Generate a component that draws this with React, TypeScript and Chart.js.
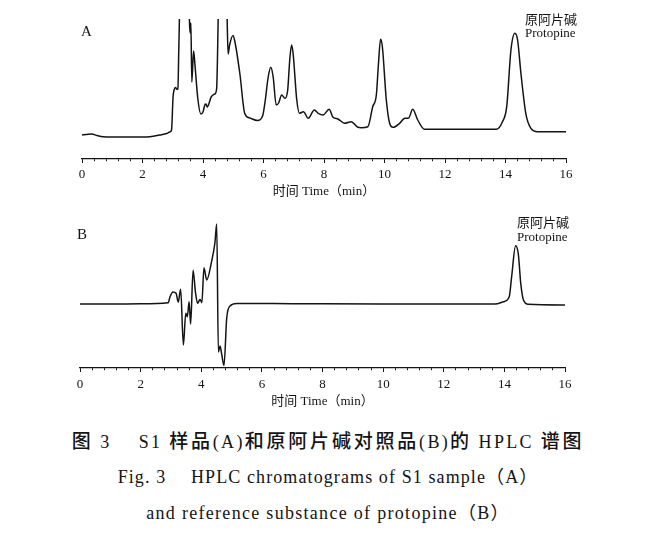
import { useEffect, useRef } from "react";
import { Chart, registerables } from "chart.js";

Chart.register(...registerables);

// ---------- data ----------
const TIME_A = [
  0.0, 0.15, 0.32, 0.5, 0.7, 1.0, 1.47, 2.0, 2.24, 2.57, 2.8, 2.9, 2.96, 3.01, 3.05, 3.09, 3.14, 3.17, 3.2,
  3.25, 3.4, 3.53, 3.56, 3.58, 3.6, 3.63, 3.69, 3.74, 3.83, 3.93, 4.0, 4.06, 4.1, 4.14, 4.27, 4.39, 4.45,
  4.52, 4.62, 4.72, 4.79, 4.83, 4.88, 4.99, 5.05, 5.22, 5.38, 5.55, 5.8, 5.97, 6.06, 6.15, 6.24, 6.32,
  6.42, 6.5, 6.6, 6.71, 6.8, 6.87, 6.93, 6.98, 7.1, 7.19, 7.32, 7.48, 7.68, 7.81, 7.97, 8.17, 8.3, 8.46,
  8.68, 8.9, 9.12, 9.23, 9.45, 9.61, 9.73, 9.8, 9.87, 9.93, 10.06, 10.17, 10.28, 10.5, 10.67, 10.8, 10.93,
  11.1, 11.32, 12.0, 13.0, 13.69, 13.9, 14.04, 14.18, 14.31, 14.4, 14.51, 14.67, 14.84, 15.06, 15.34, 16.0,
];
const SIGNAL_A = [
  24, 24.5, 25, 23.5, 22.3, 22, 22, 22, 22.3, 24, 25.5, 27, 29, 62, 69.5, 71.5, 69.7, 70, 110,
  175, 200, 160, 132, 126, 136, 77, 108, 92, 60, 45, 47, 54, 55, 52, 62, 65, 70,
  165, 220, 200, 150, 105, 114, 123.5, 118, 85, 45.5, 41, 38.5, 43, 59, 81, 91.7, 82,
  54, 56, 64, 60.7, 69, 100, 114, 105, 59, 45.7, 47.3, 40.7, 49, 45.7, 44, 49.7, 41.7, 40,
  35.7, 37.3, 31.7, 31.3, 32.3, 52.3, 64, 95, 119.7, 112, 59, 35.7, 31.7, 35.7, 40.7, 41, 49.7,
  39, 29.7, 29.7, 29.7, 29.7, 37.3, 52.3, 109, 125.7, 119, 85.7, 45.7, 30.7, 27.3, 27.3, 27.3,
];

const TIME_B = [
  0.0, 1.0, 2.0, 2.91, 2.97, 3.07, 3.17, 3.24, 3.32, 3.41, 3.49, 3.54, 3.6, 3.65, 3.73, 3.81, 3.88,
  3.96, 4.02, 4.09, 4.18, 4.34, 4.45, 4.51, 4.565, 4.62, 4.67, 4.75, 4.84, 4.95, 5.17, 7.0, 10.0, 13.69,
  13.97, 14.16, 14.24, 14.37, 14.46, 14.54, 14.63, 14.79, 16.0,
];
const SIGNAL_B = [
  64, 64, 64.2, 65.3, 71.3, 76, 74.7, 65.8, 78.8, 23, 54.7, 51.3, 66.3, 44, 97.7, 75.5, 64.7,
  68.5, 65.3, 100.3, 88, 106.3, 125, 144, 16, 22, 14.7, 2.5, 50, 62, 64.5, 64.3, 64, 64,
  66.3, 71.3, 91.3, 122.3, 114, 84.7, 68, 63.7, 63,
];

const X_MIN = 0;
const X_MAX = 16;
const MAJOR_STEP = 2;
const MINOR_STEP = 0.4;
const AXIS_TITLE = "时间 Time（min）";
const PANEL_LABELS = ["A", "B"];
const PEAK_NAME_CN = "原阿片碱";
const PEAK_NAME_EN = "Protopine";

const CAPTION_LINE_1 = [
  { text: "图", cjk: true },
  { text: " 3\u3000 S1 ", cjk: false },
  { text: "样品", cjk: true },
  { text: "(A)", cjk: false },
  { text: "和原阿片碱对照品", cjk: true },
  { text: "(B)", cjk: false },
  { text: "的", cjk: true },
  { text: " HPLC ", cjk: false },
  { text: "谱图", cjk: true },
];
const CAPTION_LINE_2 = "Fig. 3\u3000 HPLC chromatograms of S1 sample（A）";
const CAPTION_LINE_3 = "and reference substance of protopine（B）";

const SERIF = "'Liberation Serif', 'Noto Sans CJK SC', serif";
const INK = "#141414";

const isMajor = (v: number) => Math.abs(v / MAJOR_STEP - Math.round(v / MAJOR_STEP)) < 1e-6;

type PanelText = { text: string; x: number; y: number; size: number };

function makeConfig(
  times: number[],
  values: number[],
  yMax: number,
  padding: { top: number; left: number; right: number; bottom: number },
  scaleHeight: number,
  tickPad: number,
  titlePadBottom: number,
  texts: PanelText[]
): any {
  const textPlugin = {
    id: "panelText",
    afterDraw(chart: any) {
      const ctx = chart.ctx;
      ctx.save();
      ctx.fillStyle = INK;
      ctx.textBaseline = "alphabetic";
      ctx.textAlign = "left";
      for (const t of texts) {
        ctx.font = `${t.size}px ${SERIF}`;
        ctx.fillText(t.text, t.x, t.y);
      }
      ctx.restore();
    },
  };
  return {
    type: "line",
    data: {
      datasets: [
        {
          data: times.map((t, i) => ({ x: t, y: values[i] })),
          borderColor: INK,
          borderWidth: 1.5,
          pointRadius: 0,
          cubicInterpolationMode: "monotone",
          fill: false,
          clip: 1,
        },
      ],
    },
    options: {
      animation: false,
      responsive: false,
      maintainAspectRatio: false,
      layout: { padding },
      plugins: { legend: { display: false }, tooltip: { enabled: false } },
      scales: {
        x: {
          type: "linear",
          min: X_MIN,
          max: X_MAX,
          afterFit: (s: any) => {
            s.height = scaleHeight;
          },
          ticks: {
            stepSize: MINOR_STEP,
            autoSkip: false,
            maxRotation: 0,
            padding: tickPad,
            color: INK,
            font: { family: SERIF, size: 13 },
            callback: (v: any) => (isMajor(Number(v)) ? String(Math.round(Number(v))) : ""),
          },
          grid: {
            display: true,
            drawOnChartArea: false,
            drawTicks: true,
            tickLength: 4,
            tickColor: INK,
            tickWidth: 1,
            tickBorderDash: (c: any) => (c.tick && isMajor(c.tick.value) ? [] : [2, 30]),
          },
          border: { display: true, color: INK, width: 1.2 },
          title: {
            display: true,
            text: AXIS_TITLE,
            color: INK,
            font: { family: SERIF, size: 13 },
            padding: { top: 0, bottom: titlePadBottom },
          },
        },
        y: { display: false, min: 0, max: yMax },
      },
    },
    plugins: [textPlugin],
  };
}

export default function App() {
  const refA = useRef<HTMLCanvasElement | null>(null);
  const refB = useRef<HTMLCanvasElement | null>(null);

  useEffect(() => {
    const a = new Chart(
      refA.current as HTMLCanvasElement,
      makeConfig(TIME_A, SIGNAL_A, 139, { top: 20, left: 82, right: 100, bottom: 0 }, 41, 4, 1, [
        { text: PANEL_LABELS[0], x: 81, y: 36, size: 15 },
        { text: PEAK_NAME_CN, x: 525, y: 24, size: 13 },
        { text: PEAK_NAME_EN, x: 525, y: 37, size: 13 },
      ])
    );
    const b = new Chart(
      refB.current as HTMLCanvasElement,
      makeConfig(TIME_B, SIGNAL_B, 153, { top: 15, left: 80, right: 101, bottom: 0 }, 42, 5, 1, [
        { text: PANEL_LABELS[1], x: 77, y: 39, size: 15 },
        { text: PEAK_NAME_CN, x: 517, y: 27, size: 13 },
        { text: PEAK_NAME_EN, x: 517, y: 41, size: 13 },
      ])
    );
    return () => {
      a.destroy();
      b.destroy();
    };
  }, []);

  const lineStyle = (top: number): any => ({
    position: "absolute",
    top,
    left: 5,
    width: 646,
    textAlign: "center",
    fontFamily: SERIF,
    fontSize: 18,
    lineHeight: "18px",
    color: INK,
    whiteSpace: "pre",
  });

  return (
    <div style={{ position: "absolute", left: 0, top: 0, width: 666, height: 543, background: "#fff", overflow: "hidden" }}>
      <canvas ref={refA} width={666} height={200} style={{ position: "absolute", left: 0, top: 0, width: 666, height: 200 }} />
      <canvas ref={refB} width={666} height={210} style={{ position: "absolute", left: 0, top: 200, width: 666, height: 210 }} />
      <div style={lineStyle(433)}>
        {CAPTION_LINE_1.map((s, i) =>
          s.cjk ? (
            <span key={i} style={{ fontWeight: 500, fontSize: 19, letterSpacing: "2.8px" }}>
              {s.text}
            </span>
          ) : (
            <span key={i} style={{ letterSpacing: "2.3px" }}>
              {s.text}
            </span>
          )
        )}
      </div>
      <div style={{ ...lineStyle(468), letterSpacing: "1.1px" }}>{CAPTION_LINE_2}</div>
      <div style={{ ...lineStyle(504), letterSpacing: "1.3px" }}>{CAPTION_LINE_3}</div>
    </div>
  );
}
